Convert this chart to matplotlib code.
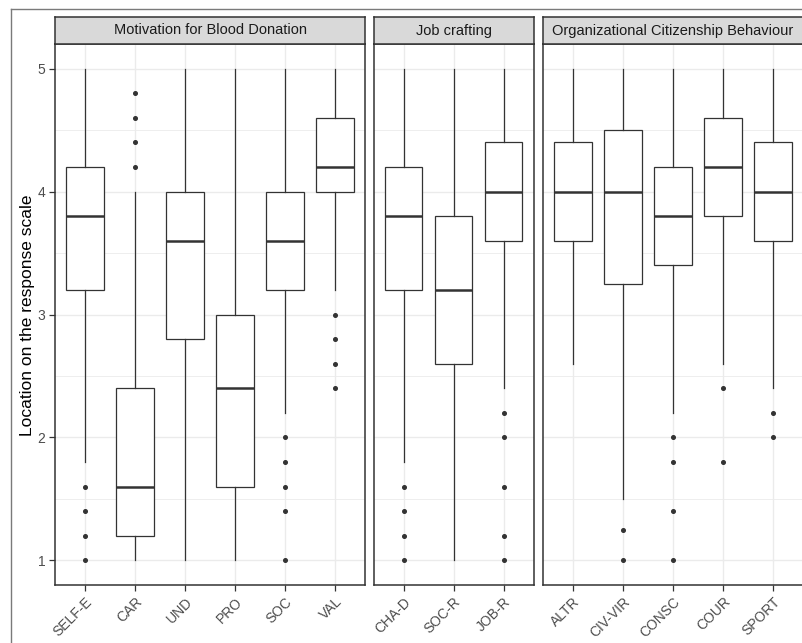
import numpy as np
import matplotlib.pyplot as plt
from matplotlib.lines import Line2D

plt.rcParams['font.family'] = ['Liberation Sans', 'DejaVu Sans']

# facet titles and categories
facets = ['Motivation for Blood Donation', 'Job crafting',
          'Organizational Citizenship Behaviour']
cats_mbd = ['SELF-E', 'CAR', 'UND', 'PRO', 'SOC', 'VAL']
cats_jc = ['CHA-D', 'SOC-R', 'JOB-R']
cats_ocb = ['ALTR', 'CIV-VIR', 'CONSC', 'COUR', 'SPORT']

# box stats: whisker low, q1, median, q3, whisker high
wlo_mbd = [1.8, 1.0, 1.0, 1.0, 2.2, 3.2]
q1_mbd = [3.2, 1.2, 2.8, 1.6, 3.2, 4.0]
med_mbd = [3.8, 1.6, 3.6, 2.4, 3.6, 4.2]
q3_mbd = [4.2, 2.4, 4.0, 3.0, 4.0, 4.6]
whi_mbd = [5.0, 4.0, 5.0, 5.0, 5.0, 5.0]
out_mbd = [[1.6, 1.4, 1.2, 1.0], [4.2, 4.4, 4.6, 4.8], [], [],
           [2.0, 1.8, 1.6, 1.4, 1.0], [3.0, 2.8, 2.6, 2.4]]

wlo_jc = [1.8, 1.0, 2.4]
q1_jc = [3.2, 2.6, 3.6]
med_jc = [3.8, 3.2, 4.0]
q3_jc = [4.2, 3.8, 4.4]
whi_jc = [5.0, 5.0, 5.0]
out_jc = [[1.6, 1.4, 1.2, 1.0], [], [2.2, 2.0, 1.6, 1.2, 1.0]]

wlo_ocb = [2.6, 1.5, 2.2, 2.6, 2.4]
q1_ocb = [3.6, 3.25, 3.4, 3.8, 3.6]
med_ocb = [4.0, 4.0, 3.8, 4.2, 4.0]
q3_ocb = [4.4, 4.5, 4.2, 4.6, 4.4]
whi_ocb = [5.0, 5.0, 5.0, 5.0, 5.0]
out_ocb = [[], [1.25, 1.0], [2.0, 1.8, 1.4, 1.0], [2.4, 1.8], [2.2, 2.0]]

panels = [
    (cats_mbd, wlo_mbd, q1_mbd, med_mbd, q3_mbd, whi_mbd, out_mbd),
    (cats_jc, wlo_jc, q1_jc, med_jc, q3_jc, whi_jc, out_jc),
    (cats_ocb, wlo_ocb, q1_ocb, med_ocb, q3_ocb, whi_ocb, out_ocb),
]

W, H = 802, 643
fig = plt.figure(figsize=(W / 100, H / 100), dpi=100)

# outer frame of the screenshot (left and top edges)
fx, fy = 10.5 / W, (H - 8.5) / H
fig.add_artist(Line2D([fx, fx], [0, fy], transform=fig.transFigure,
                      color='#7a7a7a', linewidth=1.0))
fig.add_artist(Line2D([fx, 1], [fy, fy], transform=fig.transFigure,
                      color='#7a7a7a', linewidth=1.0))

lefts = [55, 373.5, 543]
unit = 50.0
top, bottom, strip_top = 44, 585, 17
dark = '#333333'

for i, (cats, wlo, q1, med, q3, whi, outs) in enumerate(panels):
    n = len(cats)
    width = (n + 0.2) * unit
    ax = fig.add_axes([lefts[i] / W, (H - bottom) / H, width / W, (bottom - top) / H])
    stats = []
    for k in range(n):
        stats.append(dict(whislo=wlo[k], q1=q1[k], med=med[k], q3=q3[k],
                          whishi=whi[k], fliers=outs[k]))
    ax.bxp(stats, positions=np.arange(1, n + 1), widths=0.75, patch_artist=True,
           showcaps=False,
           boxprops=dict(facecolor='white', edgecolor=dark, linewidth=0.9),
           medianprops=dict(color=dark, linewidth=1.8),
           whiskerprops=dict(color=dark, linewidth=0.9),
           flierprops=dict(marker='o', markersize=2.6, markerfacecolor=dark,
                           markeredgecolor=dark, linestyle='none'))
    ax.set_xlim(0.4, n + 0.6)
    ax.set_ylim(0.8, 5.2)
    ax.set_yticks([1, 2, 3, 4, 5])
    ax.set_yticks([1.5, 2.5, 3.5, 4.5], minor=True)
    ax.set_xticks(np.arange(1, n + 1))
    ax.set_xticklabels(cats, rotation=45, ha='right', va='top',
                       rotation_mode='anchor', fontsize=10, color='#4d4d4d')
    ax.grid(True, which='major', color='#ebebeb', linewidth=1.0)
    ax.grid(True, which='minor', axis='y', color='#ebebeb', linewidth=0.6)
    ax.set_axisbelow(True)
    ax.tick_params(axis='both', which='major', length=4, width=0.9, color=dark,
                   labelsize=10, labelcolor='#4d4d4d', pad=3)
    ax.tick_params(axis='y', which='minor', length=0)
    if i > 0:
        ax.tick_params(axis='y', which='major', length=0, labelleft=False)
    for s in ax.spines.values():
        s.set_color(dark)
        s.set_linewidth(1.1)

    sax = fig.add_axes([lefts[i] / W, (H - top) / H, width / W, (top - strip_top) / H])
    sax.set_facecolor('#d9d9d9')
    sax.set_xticks([])
    sax.set_yticks([])
    for s in sax.spines.values():
        s.set_color(dark)
        s.set_linewidth(1.1)
    sax.text(0.5, 0.5, facets[i], ha='center', va='center', fontsize=10.5,
             color='#1a1a1a', transform=sax.transAxes)

fig.text(27.5 / W, 1 - 315 / H, 'Location on the response scale', rotation=90,
         ha='center', va='center', fontsize=12.5, color='black')

fig.savefig('out.png', dpi=100)
